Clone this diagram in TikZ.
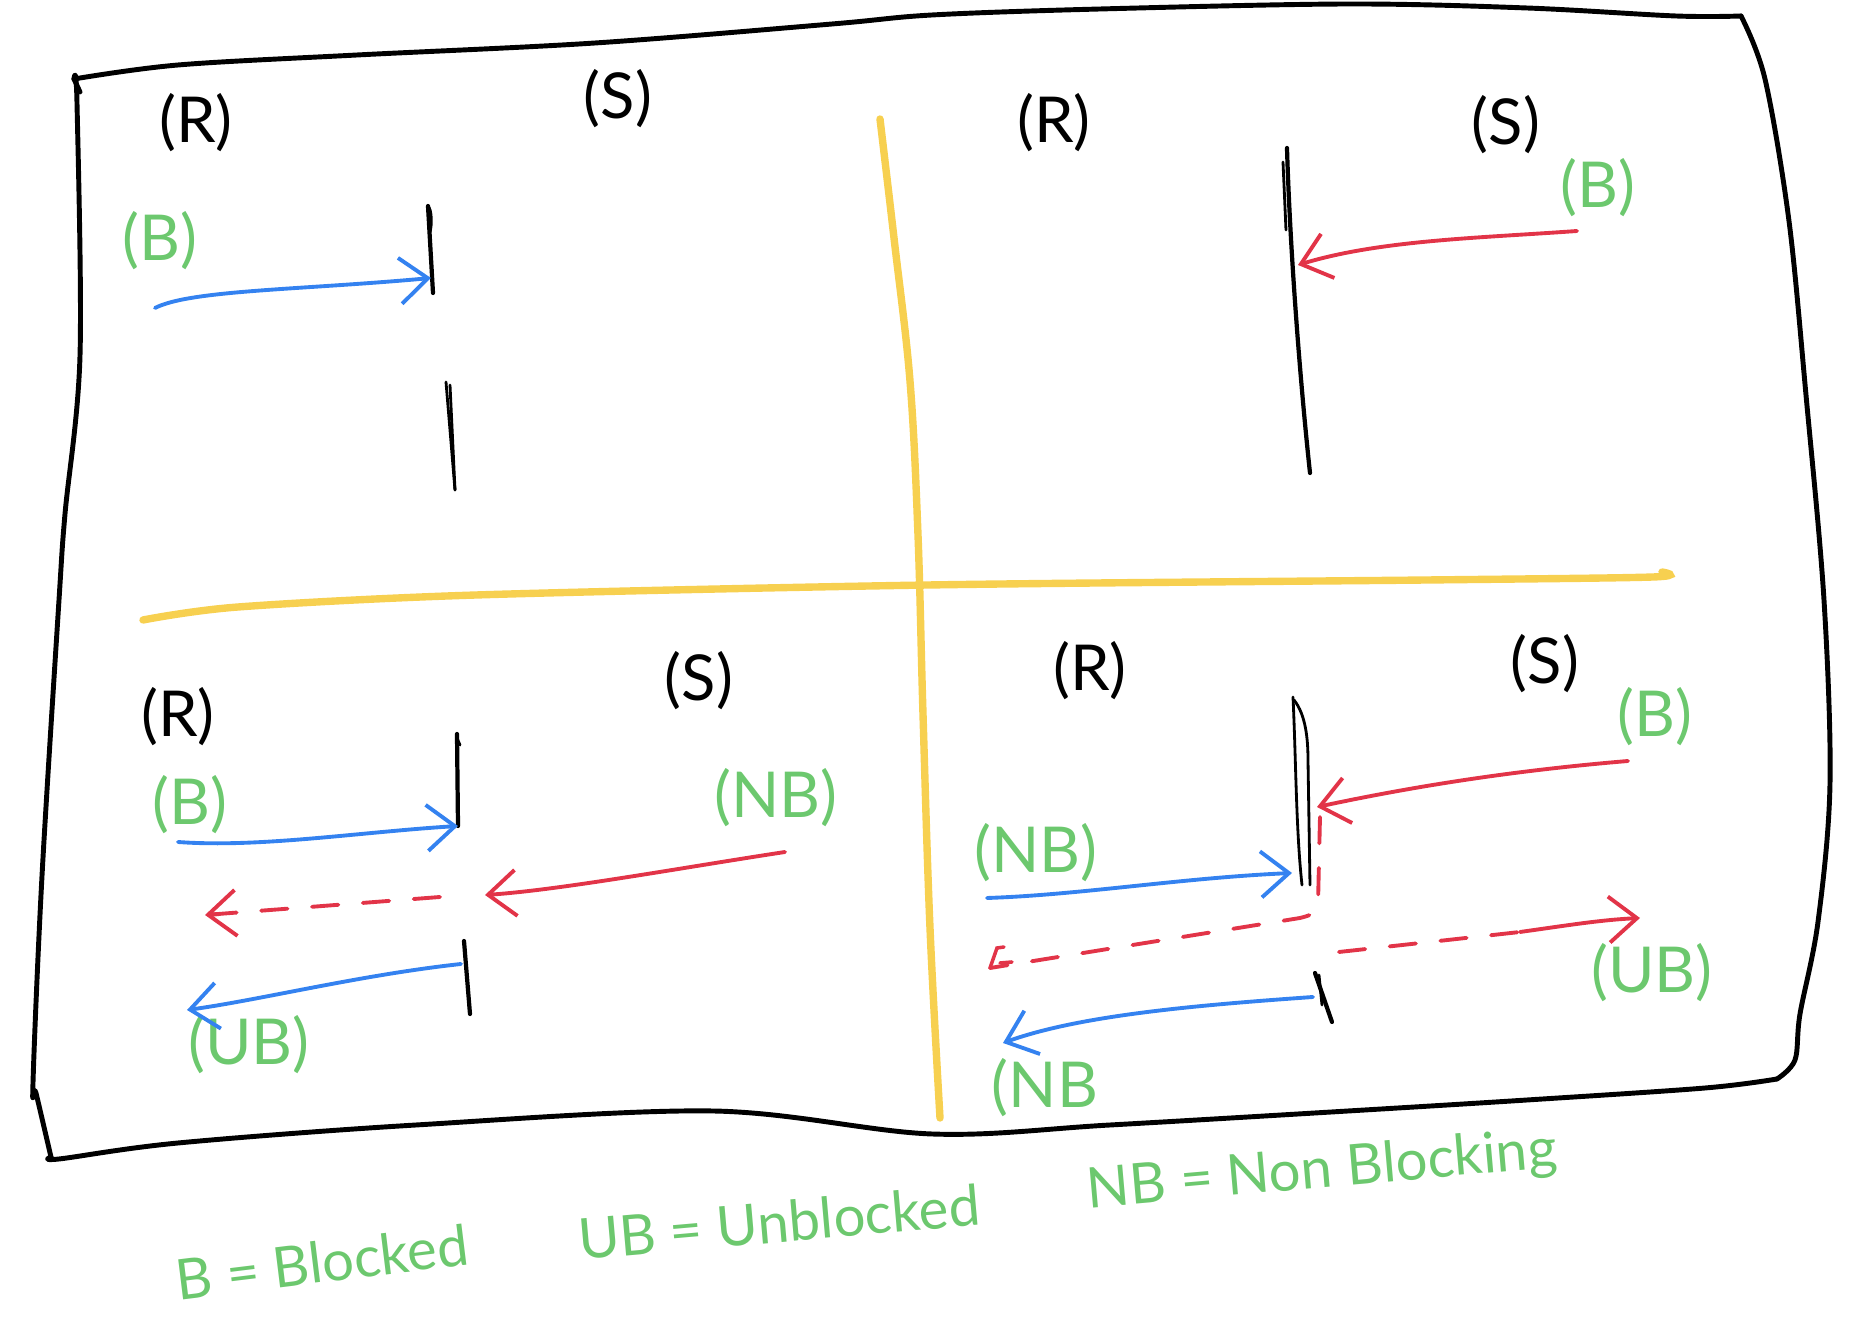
\documentclass[tikz,border=0pt]{standalone}
\usepackage{fontspec}
\setmainfont{Lato}
\usetikzlibrary{arrows.meta}
\definecolor{hgreen}{RGB}{108,200,110}
\definecolor{hblue}{RGB}{52,130,240}
\definecolor{hred}{RGB}{226,52,72}
\definecolor{hyellow}{RGB}{247,208,80}
\begin{document}
\begin{tikzpicture}[x=0.01cm,y=-0.01cm,
  frame/.style={line width=1.4pt, line cap=round, line join=round},
  bar/.style={line width=1.2pt, line cap=round},
  thinbar/.style={line width=0.8pt, line cap=round},
  divider/.style={hyellow, line width=2.1pt, line cap=round},
  tipV/.tip={Straight Barb[length=2.8mm,width=4.6mm]},
  bluearr/.style={hblue, line width=1.1pt, line cap=round, -tipV},
  redarr/.style={hred, line width=1.1pt, line cap=round, -tipV},
  reddash/.style={hred, line width=1.1pt, line cap=round, dash pattern=on 7.5pt off 7pt},
  role/.style={font=\fontsize{18}{20}\selectfont, text=black, inner sep=0pt},
  state/.style={font=\fontsize{18}{20}\selectfont, text=hgreen, inner sep=0pt},
  legend/.style={font=\fontsize{16}{19}\selectfont, text=hgreen, inner sep=0pt}
]
\useasboundingbox (0,0) rectangle (1865,1322);

% ---------- outer hand-drawn frame ----------
\draw[frame] plot[smooth, tension=0.55] coordinates {
  (74,79) (178,65) (357,55) (595,43) (832,24) (932,15) (1100,9) (1348,4) (1527,8) (1676,16) (1741,16)};
\draw[frame] plot[smooth, tension=0.55] coordinates {
  (1741,16) (1765,79) (1789,221) (1806,395) (1824,600) (1830,784) (1818,922) (1800,1014) (1795,1060) (1777,1079)};
\draw[frame] plot[smooth, tension=0.55] coordinates {
  (1777,1079) (1705,1088) (1527,1100) (1348,1111) (1110,1125) (932,1134) (713,1111) (416,1125) (178,1143) (59,1159) (51,1157)};
\draw[frame] plot[smooth, tension=0.55] coordinates {
  (51,1157) (36,1093) (33,1083) (42,876) (59,600) (65,514) (80,356) (77,103) (74,79)};
\draw[frame] (74,79) -- (80,92);

% ---------- yellow dividers ----------
\draw[divider] plot[smooth, tension=0.6] coordinates {
  (880,119) (894,238) (910,381) (918,535) (923,714) (930,928) (940,1118)};
\draw[divider] plot[smooth, tension=0.5] coordinates {
  (143,620) (238,607) (476,595) (928,585) (1427,580) (1653,577) (1662,572)};

% ================= quadrant 1 (top left) =================
\node[role]  (q1R) at (196,123) {(R)};
\node[role]  (q1S) at (618,99)  {(S)};
\node[state] (q1B) at (160,241) {(B)};
\coordinate (q1bt) at (428,206);
\coordinate (q1bb) at (433,293);
\draw[bar] (q1bt) -- (q1bb);
\draw[thinbar] (428,206) .. controls (432,210) and (432,225) .. (430,232);
\coordinate (q1ct) at (446,382);
\coordinate (q1cb) at (455,490);
\draw[thinbar] (q1ct) -- (q1cb);
\draw[thinbar] (450,385) -- (455,490);
\coordinate (q1s) at (155,308);
\coordinate (q1e) at (431,278);
\draw[bluearr] (q1s) .. controls (190,290) and (300,290) .. (q1e);

% ================= quadrant 2 (top right) =================
\node[role]  (q2R) at (1054,123) {(R)};
\node[role]  (q2S) at (1506,125) {(S)};
\node[state] (q2B) at (1598,188) {(B)};
\coordinate (q2bt) at (1287,148);
\coordinate (q2bb) at (1310,473);
\draw[bar] (q2bt) .. controls (1290,250) and (1300,380) .. (q2bb);
\draw[thinbar] (1283,162) -- (1286,230);
\coordinate (q2s) at (1577,231);
\coordinate (q2e) at (1298,265);
\draw[redarr] (q2s) .. controls (1480,238) and (1380,240) .. (q2e);

% ================= quadrant 3 (bottom left) =================
\node[role]  (q3R)  at (178,717)  {(R)};
\node[role]  (q3S)  at (699,681)  {(S)};
\node[state] (q3B)  at (190,805)  {(B)};
\node[state] (q3NB) at (776,798)  {(NB)};
\node[state] (q3UB) at (249,1045) {(UB)};
\coordinate (q3bt) at (457,734);
\coordinate (q3bb) at (458,826);
\draw[bar] (q3bt) -- (q3bb);
\draw[thinbar] (457,738) -- (460,745);
\coordinate (q3ct) at (464,941);
\coordinate (q3cb) at (470,1014);
\draw[bar] (q3ct) -- (q3cb);
% blocked receive
\coordinate (q3a) at (178,842);
\draw[bluearr] (q3a) .. controls (260,848) and (360,832) .. (q3bb);
% non-blocking send
\coordinate (q3rs) at (785,852);
\coordinate (q3re) at (485,895);
\draw[redarr] (q3rs) .. controls (680,868) and (560,890) .. (q3re);
\coordinate (q3ds) at (440,897);
\coordinate (q3de) at (205,915);
\draw[reddash] (q3ds) -- (q3de);
\draw[hred, line width=1.1pt, line cap=round, -tipV] (220,914) -- (q3de);
% unblocked
\coordinate (q3us) at (461,964);
\coordinate (q3ue) at (187,1010);
\draw[bluearr] (q3us) .. controls (360,975) and (260,1000) .. (q3ue);

% ================= quadrant 4 (bottom right) =================
\node[role]  (q4R)  at (1090,671)  {(R)};
\node[role]  (q4S)  at (1545,664)  {(S)};
\node[state] (q4B)  at (1655,717)  {(B)};
\node[state] (q4NB) at (1036,853)  {(NB)};
\node[state] (q4UB) at (1652,973)  {(UB)};
\node[state] (q4NB2) at (1045,1088) {(NB};
% double bar
\coordinate (q4bt) at (1293,697);
\coordinate (q4bb) at (1302,885);
\draw[thinbar] (q4bt) .. controls (1296,760) and (1296,830) .. (q4bb);
\draw[thinbar] (1294,700) .. controls (1306,715) and (1308,740) .. (1308,760) -- (1310,885);
\coordinate (q4ct) at (1315,973);
\coordinate (q4cb) at (1332,1022);
\draw[bar] (q4ct) -- (q4cb);
\draw[thinbar] (1319,975) -- (1322,1005);
% blocked send from S
\coordinate (q4rs) at (1628,761);
\coordinate (q4re) at (1317,807);
\draw[redarr] (q4rs) .. controls (1520,770) and (1420,785) .. (q4re);
% non-blocking receive from R
\coordinate (q4bs) at (987,898);
\coordinate (q4be) at (1292,873);
\draw[bluearr] (q4bs) .. controls (1080,895) and (1180,878) .. (q4be);
% dashed return to R
\coordinate (q4dt) at (1320,817);
\coordinate (q4dl) at (990,968);
\draw[reddash] (q4dt) -- (1318,905) .. controls (1316,913) and (1312,915) .. (1300,918) -- (q4dl);
\draw[hred, line width=1pt, line cap=round] (q4dl) -- (997,948) -- (1004,947);
\draw[hred, line width=1pt, line cap=round] (1000,963) -- (1012,962);
% dashed unblock to S
\coordinate (q4us) at (1339,952);
\coordinate (q4ue) at (1640,918);
\coordinate (q4um) at (1520,932);
\draw[reddash] (q4us) -- (q4um);
\draw[redarr] (q4um) .. controls (1570,925) and (1600,920) .. (q4ue);
% non-blocking return
\coordinate (q4ns) at (1313,997);
\coordinate (q4ne) at (1003,1043);
\draw[bluearr] (q4ns) .. controls (1200,1005) and (1080,1015) .. (q4ne);

% ---------- legend ----------
\node[legend, rotate=7] (legB)  at (322,1262) {B = Blocked};
\node[legend, rotate=5] (legUB) at (779,1222) {UB = Unblocked};
\node[legend, rotate=5] (legNB) at (1322,1172) {NB = Non Blocking};
\end{tikzpicture}
\end{document}
